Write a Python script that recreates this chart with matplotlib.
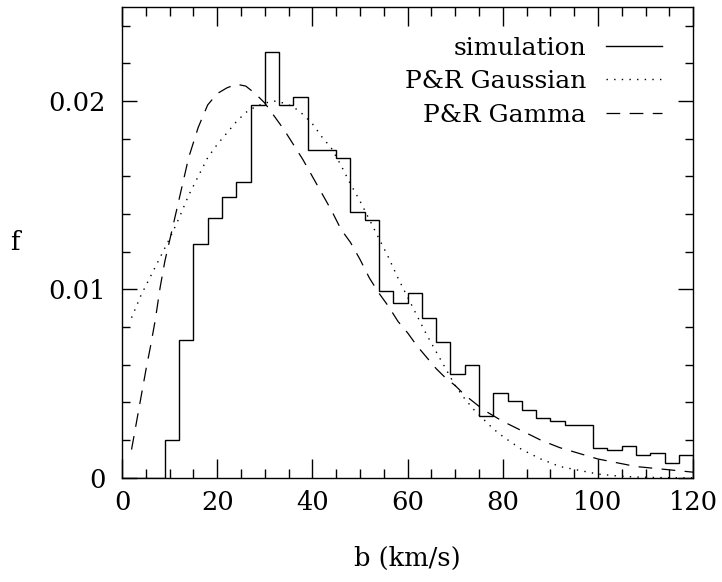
import numpy as np
import matplotlib.pyplot as plt
from matplotlib.ticker import MultipleLocator

# simulated b-parameter distribution, 3 km/s bins
bin_edges = list(range(0, 121, 3))
sim_f = [0.0, 0.0, 0.0, 0.0020, 0.0073, 0.0124, 0.0138, 0.0149, 0.0157, 0.0198,
         0.0226, 0.0198, 0.0202, 0.0174, 0.0174, 0.0170, 0.0141, 0.0137, 0.0099, 0.0093,
         0.0098, 0.0085, 0.0072, 0.0055, 0.0060, 0.0033, 0.0045, 0.0041, 0.0036, 0.0032,
         0.0030, 0.0028, 0.0028, 0.0016, 0.0015, 0.0017, 0.0012, 0.0013, 0.0008, 0.0012]

# P&R Gaussian fit
gauss_b = [2, 4, 6, 8, 10, 12, 14, 16, 18, 20, 22, 24, 26, 28, 30, 32, 34, 36, 38, 40,
           42, 44, 46, 48, 50, 52, 54, 56, 58, 60, 62, 64, 66, 68, 70, 72, 74, 76, 78, 80,
           84, 88, 92, 96, 100, 104, 108, 112, 116, 120]
gauss_f = [0.0085, 0.0097, 0.0107, 0.0117, 0.0127, 0.0138, 0.0150, 0.0160, 0.0170, 0.0177,
           0.0183, 0.0189, 0.0194, 0.0197, 0.0199, 0.0200, 0.0199, 0.0197, 0.0193, 0.0188,
           0.0181, 0.0175, 0.0166, 0.0156, 0.0147, 0.0137, 0.0127, 0.0117, 0.0106, 0.0096,
           0.0086, 0.0076, 0.0067, 0.0058, 0.0049, 0.0042, 0.0036, 0.0031, 0.0026, 0.0022,
           0.0015, 0.0010, 0.0006, 0.0004, 0.0002, 0.0001, 0.00004, 0.00002, 0.0, 0.0]

# P&R Gamma fit
gamma_b = [2, 3, 4, 5, 6, 7, 8, 9, 10, 12, 14, 16, 18, 20, 22, 24, 26, 28, 30, 32,
           34, 36, 38, 40, 42, 44, 46, 48, 50, 52, 54, 56, 58, 60, 62, 64, 66, 68, 70, 72,
           74, 76, 78, 80, 84, 88, 92, 96, 100, 104, 108, 112, 116, 120]
gamma_f = [0.0015, 0.0029, 0.0043, 0.0057, 0.0070, 0.0084, 0.0101, 0.0115, 0.0126, 0.0148,
           0.0170, 0.0186, 0.0198, 0.0204, 0.0207, 0.0209, 0.0208, 0.0204, 0.0199, 0.0192,
           0.0185, 0.0177, 0.0169, 0.0160, 0.0151, 0.0142, 0.0132, 0.0125, 0.0116, 0.0106,
           0.0098, 0.0091, 0.0083, 0.0077, 0.0070, 0.0064, 0.0058, 0.0053, 0.0049, 0.0044,
           0.0040, 0.0036, 0.0033, 0.0030, 0.0025, 0.0020, 0.0016, 0.0013, 0.0010, 0.0008,
           0.0006, 0.0005, 0.0004, 0.0003]

plt.rcParams['font.family'] = 'DejaVu Serif'

fig = plt.figure(figsize=(7.22, 5.82), dpi=100)
ax = fig.add_axes([0.169, 0.179, 0.791, 0.809])

ax.stairs(sim_f, bin_edges, color='black', linewidth=1.0, label='simulation')
ax.plot(gauss_b, gauss_f, color='black', linewidth=1.0, linestyle=(0, (1, 4.5)),
        label='P&R Gaussian')
ax.plot(gamma_b, gamma_f, color='black', linewidth=0.9, linestyle=(0, (11, 7.5)),
        label='P&R Gamma')

ax.set_xlim(0, 120)
ax.set_ylim(0, 0.025)

ax.xaxis.set_major_locator(MultipleLocator(20))
ax.xaxis.set_minor_locator(MultipleLocator(5))
ax.yaxis.set_major_locator(MultipleLocator(0.01))
ax.yaxis.set_minor_locator(MultipleLocator(0.002))
ax.yaxis.set_major_formatter(lambda v, p: '0' if v == 0 else f'{v:.2f}')

ax.tick_params(which='both', direction='in', top=True, right=True, width=1.0,
               labelsize=18.5)
ax.tick_params(axis='x', which='major', length=13.5, pad=9)
ax.tick_params(axis='x', which='minor', length=6.5)
ax.tick_params(axis='y', which='major', length=11, pad=12)
ax.tick_params(axis='y', which='minor', length=5.8)
for s in ax.spines.values():
    s.set_linewidth(1.0)

ax.set_xlabel('b (km/s)', fontsize=18.5, labelpad=22)
ax.set_ylabel('f', fontsize=18.5, rotation=0, labelpad=24, va='center')

ax.legend(loc='upper right', bbox_to_anchor=(0.985, 0.985), frameon=False,
          markerfirst=False, fontsize=18, handlelength=2.24, handletextpad=0.8,
          labelspacing=0.42)

fig.savefig('out.png', dpi=100)
